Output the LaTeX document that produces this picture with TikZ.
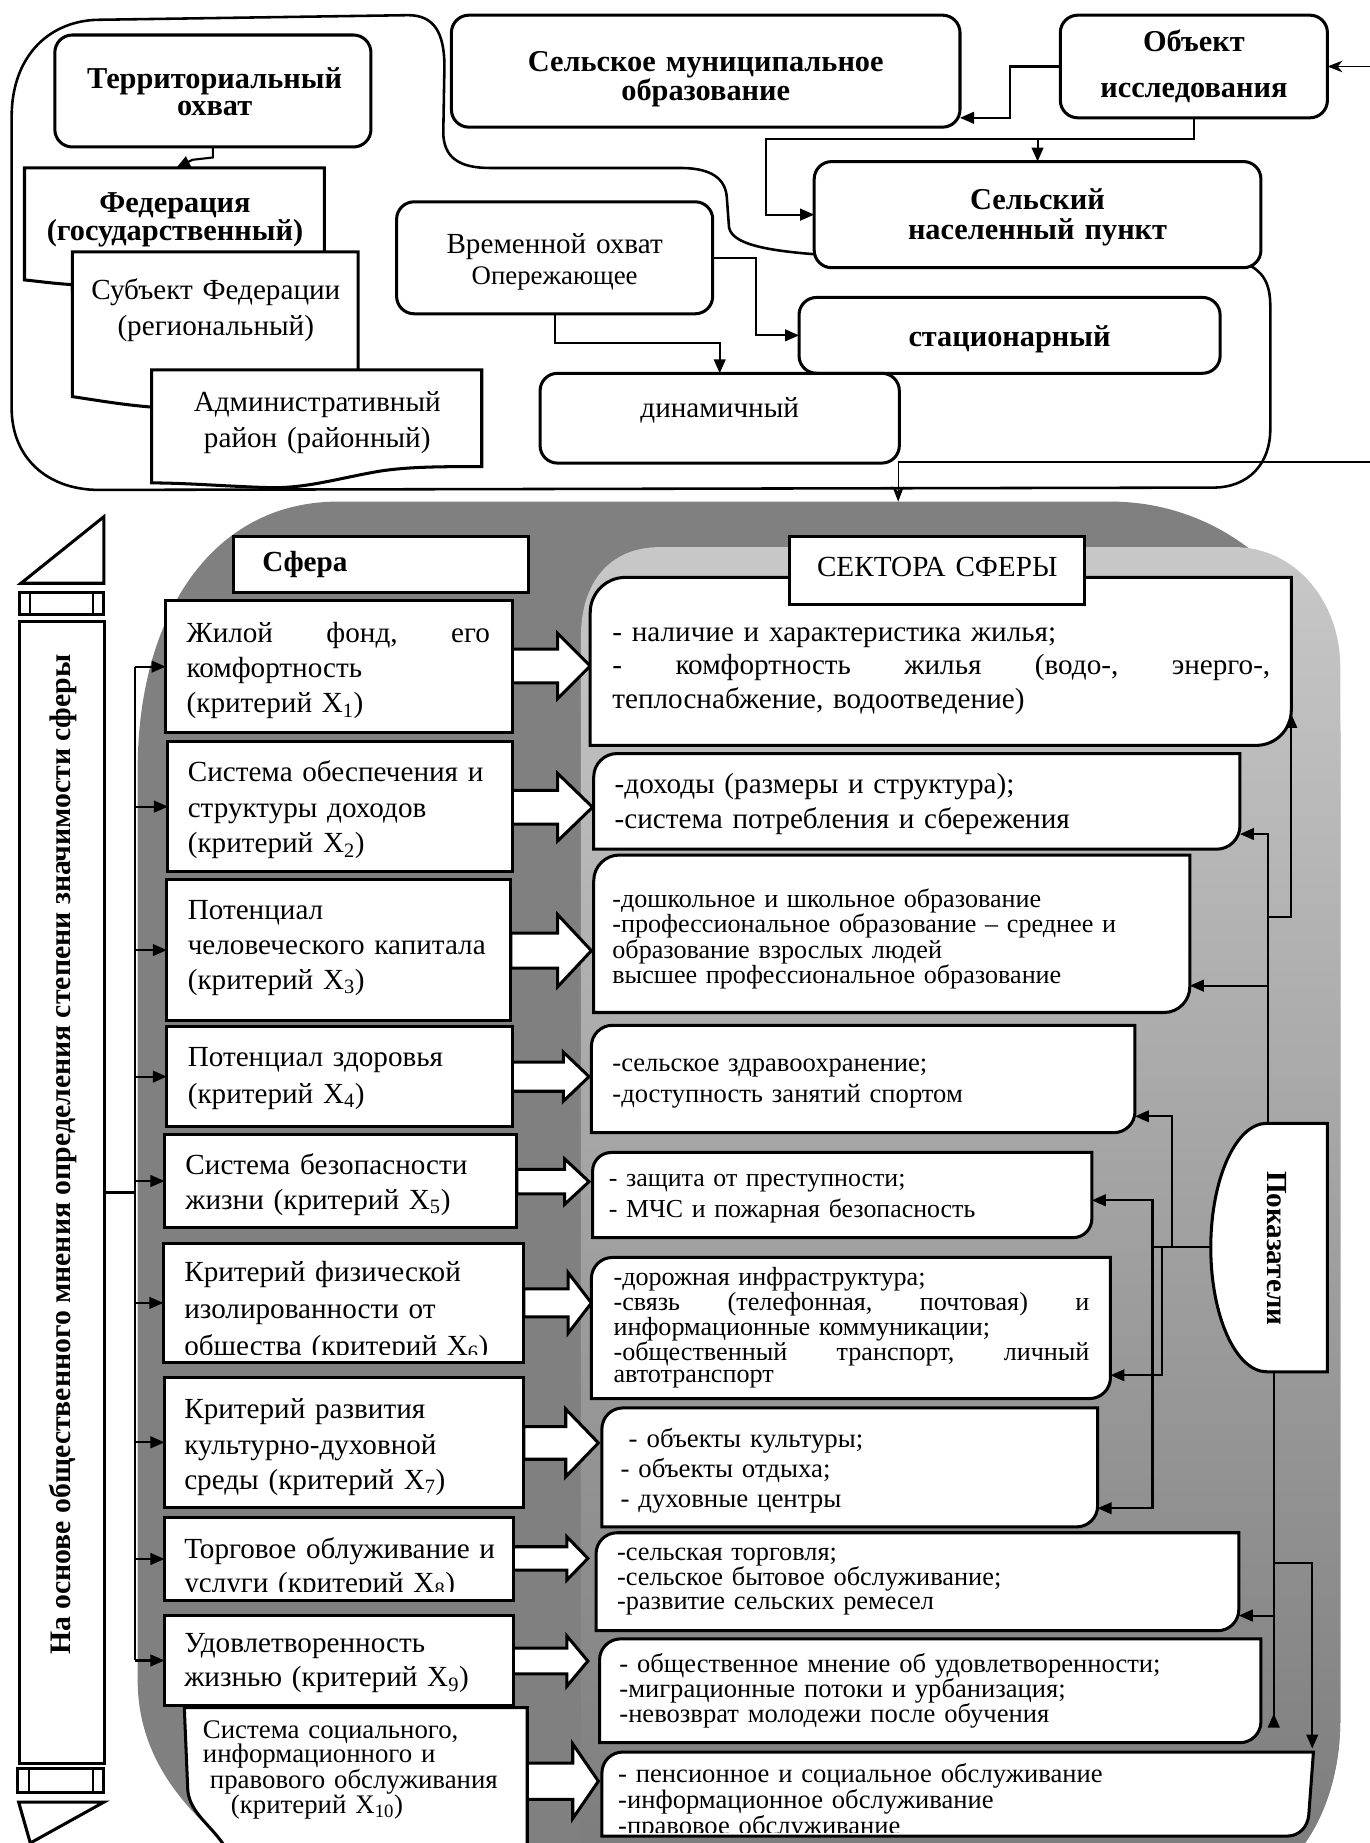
\documentclass[tikz,border=0pt]{standalone}
\usepackage{fontspec}
\setmainfont{Liberation Serif}
\usetikzlibrary{arrows.meta,calc,fit}
\newcommand\fsz[2]{\fontsize{#1}{#2}\selectfont}
\definecolor{darkg}{RGB}{128,128,128}
\definecolor{lgtop}{RGB}{200,200,200}
\definecolor{lgbot}{RGB}{125,125,125}
\tikzset{
  bline/.style={line width=2.6pt, draw=black, fill=white, line join=miter},
  rbox/.style={bline, rounded corners=15pt, inner sep=0pt, outer sep=0pt},
  sqbox/.style={bline, inner sep=0pt, outer sep=0pt},
  outl/.style={line width=2.2pt, draw=black},
  conn/.style={line width=1.8pt, -{Triangle[length=12pt,width=10pt]}},
  connl/.style={line width=1.8pt},
  connrev/.style={line width=1.8pt, {Triangle[reversed,length=12pt,width=10pt]}-},
  thinarr/.style={line width=1pt, -{Stealth[length=13pt,width=10pt]}},
  blk/.style={line width=2.6pt, draw=black, fill=white, line join=miter},
  txt/.style={inner sep=0pt, outer sep=0pt, anchor=base west, align=left, text width=#1},
  ctxt/.style={inner sep=0pt, outer sep=0pt, anchor=base, align=center, text width=#1},
  ghost/.style={inner sep=0pt, outer sep=0pt, draw=none, fill=none},
}
\newcommand\secbox[6]{%
  \draw[bline] (#2,{#3+#6}) .. controls (#2,{#3+0.45*#6}) and ({#2+0.45*#6},#3) .. ({#2+#6},#3) -- (#4,#3) -- (#4,{#5-#6}) .. controls (#4,{#5-0.45*#6}) and ({#4-0.45*#6},#5) .. ({#4-#6},#5) -- (#2,#5) -- cycle;
  \coordinate (#1nw) at (#2,#3); \coordinate (#1se) at (#4,#5);
  \node[ghost, fit=(#1nw)(#1se)] (#1) {};
}
\newcommand\blockarrow[6]{% xb xt yc hs hh L
  \draw[blk] (#1,{#3-#4}) -- ({#2-#6},{#3-#4}) -- ({#2-#6},{#3-#5}) -- (#2,#3) -- ({#2-#6},{#3+#5}) -- ({#2-#6},{#3+#4}) -- (#1,{#3+#4}) -- cycle;}
\begin{document}
\begin{tikzpicture}[x=1pt,y=-1pt]
\useasboundingbox (0,0) rectangle (1174.5,1580);

% ---------- gray regions ----------
\fill[darkg] (118,1440) -- (118,660) .. controls (118,530) and (180,430) .. (290,430) -- (952,430) .. controls (1062,430) and (1149,520) .. (1149,630) -- (1149,1475) .. controls (1149,1520) and (1135,1560) .. (1115,1585) -- (200,1585) .. controls (150,1545) and (118,1500) .. (118,1440) -- cycle;
\shade[top color=lgtop, bottom color=lgbot] (498,1585) -- (498,546) .. controls (498,500) and (522,469) .. (566,469) -- (1058,469) .. controls (1110,469) and (1149,515) .. (1149,572) -- (1149,1475) .. controls (1149,1520) and (1135,1560) .. (1115,1585) -- cycle;

% ---------- top outline ----------
\draw[outl] (712,219) .. controls (670,216) and (628,212) .. (625,195) -- (623,168) .. controls (621,150) and (605,144) .. (583,144) -- (420,144) .. controls (392,144) and (381,134) .. (380,115) -- (381,57) .. controls (381,28) and (372,13) .. (350,13) -- (82,17) .. controls (40,19) and (10,50) .. (10,100) -- (10,350) .. controls (10,392) and (40,420) .. (85,420) -- (1040,418) .. controls (1070,418) and (1089,398) .. (1089,368) -- (1089,262) .. controls (1089,242) and (1082,232) .. (1068,226);

% ---------- top boxes ----------
\node[rbox, minimum width=271pt, minimum height=96pt] (terr) at (182.5,78) {};
\draw[bline] (21,144) -- (278,144) -- (278,250) -- (62,250) -- (62,244) .. controls (45,243) and (32,241) .. (21,240) -- cycle;
\coordinate (fednw) at (21,144); \coordinate (fedse) at (278,240);
\node[ghost, fit=(fednw)(fedse)] (fed) {};
\draw[bline] (62,216) -- (307,216) -- (307,330) -- (130,330) -- (130,349) .. controls (105,347) and (82,343) .. (62,340) -- cycle;
\coordinate (subnw) at (62,216); \coordinate (subse) at (307,340);
\node[ghost, fit=(subnw)(subse)] (sub) {};
\draw[bline] (130,317) -- (413,317) -- (413,400) .. controls (380,400) and (350,400) .. (325,404) .. controls (290,410) and (262,419) .. (230,418) .. controls (195,417) and (160,414) .. (130,414) -- cycle;
\coordinate (admnw) at (130,317); \coordinate (admse) at (413,414);
\node[ghost, fit=(admnw)(admse)] (adm) {};

\node[rbox, minimum width=436pt, minimum height=96pt] (selmo) at (605,61) {};
\node[rbox, minimum width=229pt, minimum height=88pt] (obj) at (1023.5,57) {};
\node[rbox, minimum width=383pt, minimum height=91pt] (sel) at (889.5,184) {};
\node[rbox, minimum width=271pt, minimum height=96pt] (vrem) at (475.5,221) {};
\node[rbox, minimum width=361pt, minimum height=65pt] (stat) at (865.5,287.5) {};
\node[rbox, minimum width=308pt, minimum height=77pt] (dyn) at (617,358.5) {};

% top connectors
\coordinate (fedin) at (151,144);
\draw[conn] (terr.south) -- ++(0,9) -- (165,137) -- (fedin);
\coordinate (rin1) at (1174.5,57);
\draw[thinarr] (rin1) -- (obj.east);
\coordinate (selmoin) at (823,101);
\draw[conn] (obj.west) -| (866,101) -- (selmoin);
\draw[conn] (obj.south) |- (657,119) |- (sel.west);
\draw[conn] (sel.north |- 0,119) -- (sel.north);
\draw[conn] (vrem.east) -- (648,221) |- (stat.west);
\draw[conn] (vrem.south) |- (617,294) -- (dyn.north);
\coordinate (rin2) at (1174.5,396); \coordinate (graytop) at (770,430);
\draw[thinarr] (rin2) -- (770,396) -- (graytop);

% top texts
\node[ctxt=300pt, font=\bfseries\fsz{26}{23}] (terrt) at (184,76) {Территориальный\\охват};
\node[ctxt=300pt, font=\bfseries\fsz{26}{23}] (fedt) at (150,182) {Федерация\\(государственный)};
\node[ctxt=300pt, font=\fsz{25}{31}] (subt) at (185,257) {Субъект Федерации\\(региональный)};
\node[ctxt=300pt, font=\fsz{25}{31}] (admt) at (272,353) {Административный\\район (районный)};
\node[ctxt=420pt, font=\bfseries\fsz{26}{23}] (selmot) at (605,61) {Сельское муниципальное\\образование};
\node[ctxt=220pt, font=\bfseries\fsz{26}{40}] (objt) at (1023.5,44) {Объект\\исследования};
\node[ctxt=370pt, font=\bfseries\fsz{26}{25}] (selt) at (889.5,180) {Сельский\\населенный пункт};
\node[ctxt=260pt, font=\fsz{25}{30}] (vremt) at (475.5,217) {Временной охват};
\node[ctxt=260pt, font=\fsz{23}{28}] (oper) at (475.5,244) {Опережающее};
\node[ctxt=350pt, font=\bfseries\fsz{26}{30}] (statt) at (865.5,297) {стационарный};
\node[ctxt=300pt, font=\fsz{25}{30}] (dynt) at (617,358) {динамичный};

% ---------- banner ----------
\draw[bline] (18,500) -- (89,500) -- (89,443) -- cycle;
\draw[bline] (17,508) rectangle (89,527);
\draw[line width=2pt] (26,508) -- (26,527) (80,508) -- (80,527);
\node[sqbox, minimum width=73pt, minimum height=979pt] (ban) at (53.5,1022.5) {};
\draw[bline] (15,1516) rectangle (89,1537);
\draw[line width=2pt] (25,1516) -- (25,1537) (80,1516) -- (80,1537);
\draw[bline] (16,1545) -- (89,1545) -- (26,1580) -- cycle;
\node[rotate=90, inner sep=0pt, font=\bfseries\fsz{25.5}{30}] (bantxt) at (54,990) {На основе общественного мнения определения степени значимости сферы};

% ---------- block arrows ----------
\blockarrow{439}{506}{571}{14.5}{28}{28}
\blockarrow{439}{508}{692}{14.5}{29}{30}
\blockarrow{438}{507}{815}{15}{31}{29}
\blockarrow{439}{505}{923}{12.5}{21}{22}
\blockarrow{443}{505}{1013}{10.5}{19.5}{21}
\blockarrow{449}{507}{1117}{12}{26}{20}
\blockarrow{449}{513}{1237}{14}{29}{28}
\blockarrow{440}{504}{1336}{10}{18.5}{18}
\blockarrow{440}{504}{1424}{11}{21.5}{18}
\blockarrow{452}{513}{1527}{15.5}{32}{22}

% ---------- criterion boxes ----------
\node[sqbox, minimum width=297pt, minimum height=113pt] (x1) at (290.5,571.5) {};
\node[sqbox, minimum width=295pt, minimum height=111pt] (x2) at (291.5,691.5) {};
\node[sqbox, minimum width=295pt, minimum height=121pt] (x3) at (290.5,814.5) {};
\node[sqbox, minimum width=296pt, minimum height=86pt] (x4) at (291,923) {};
\node[sqbox, minimum width=302pt, minimum height=79pt] (x5) at (292,1012.5) {};
\node[sqbox, minimum width=309pt, minimum height=102pt] (x6) at (294.5,1117) {};
\node[sqbox, minimum width=308pt, minimum height=111pt] (x7) at (295,1236.5) {};
\node[sqbox, minimum width=299pt, minimum height=71pt] (x8) at (290.5,1336.5) {};
\node[sqbox, minimum width=299pt, minimum height=77pt] (x9) at (290.5,1423.5) {};
\draw[bline] (452,1464) -- (158,1464) -- (161,1535) .. controls (163,1555) and (182,1565) .. (194,1585) -- (452,1585) -- cycle;
\coordinate (x10nw) at (158,1464); \coordinate (x10se) at (452,1580);
\node[ghost, fit=(x10nw)(x10se)] (x10) {};

% branch
\coordinate (brx) at (116,1022.5);
\draw[line width=2.6pt] (ban.east) -- (brx);
\draw[connl] (brx |- x1.west) -- (brx |- x9.west);
\foreach \k in {1,...,9} \draw[conn] (brx |- x\k.west) -- (x\k.west);

% ---------- sector boxes ----------
\secbox{s1}{506}{495}{1107}{639}{30}
\secbox{s2}{509}{646}{1063}{728}{20}
\secbox{s3}{509}{733}{1020}{868}{22}
\secbox{s4}{507}{879}{973}{971}{18}
\secbox{s5}{508}{988}{936}{1061}{16}
\secbox{s6}{507}{1078}{952}{1199}{18}
\secbox{s7}{516}{1207}{941}{1309}{18}
\secbox{s8}{511}{1314}{1062}{1398}{18}
\secbox{s9}{514}{1405}{1081}{1494}{18}
\draw[bline] (516,1520) .. controls (516,1510) and (524,1502) .. (534,1502) -- (1126,1502) -- (1122,1556) .. controls (1121,1567) and (1113,1574) .. (1104,1574) -- (516,1574) -- cycle;
\coordinate (s10nw) at (516,1502); \coordinate (s10se) at (1126,1574);
\node[ghost, fit=(s10nw)(s10se)] (s10) {};

% headers
\node[sqbox, minimum width=253pt, minimum height=48pt] (sfera) at (326.5,484) {};
\node[sqbox, minimum width=253pt, minimum height=58pt] (sect) at (803.5,489) {};

% ---------- Pokazateli ----------
\draw[bline] (1086,963) -- (1138,963) -- (1138,1176) -- (1086,1176) .. controls (1059.5,1176) and (1038,1128.3) .. (1038,1069.5) .. controls (1038,1010.7) and (1059.5,963) .. (1086,963) -- cycle;
\coordinate (poknw) at (1038,963); \coordinate (pokse) at (1138,1176);
\node[ghost, fit=(poknw)(pokse)] (pok) {};
\coordinate (pokt) at (1087,963); \coordinate (pokb) at (1092,1176); \coordinate (pokl) at (1038,1069);
\node[rotate=-90, inner sep=0pt, font=\bfseries\fsz{25}{30}] (pokt2) at (1095,1070) {Показатели};

\draw[conn] (pokt) |- (s2.east |- 0,715);
\draw[conn] (pokt |- 0,786) -| (s1.east |- 0,612);
\draw[conn] (pokt |- 0,845) -- (s3.east |- 0,845);
\draw[connl] (pokl) -- (988,1069);
\draw[conn] (1005,1069) |- (s4.east |- 0,957);
\draw[conn] (988,1069) |- (s5.east |- 0,1029);
\draw[conn] (996,1069) |- (s6.east |- 0,1179);
\draw[conn] (988,1069) |- (s7.east |- 0,1293);
\draw[conn] (pokb) |- (s8.east |- 0,1385);
\draw[connrev] (1092,1481) -- (1092,1385);
\draw[conn] (pokb |- 0,1340) -| (1125,1499);

% ---------- texts ----------
\node[txt=200pt, font=\bfseries\fsz{25}{30}] (sferat) at (225,490) {Сфера};
\node[ctxt=250pt, font=\fsz{25}{30}] (sectt) at (803.5,494) {СЕКТОРА СФЕРЫ};

\node[txt=300pt, font=\fsz{25}{30}] (x1t) at (160,551) {\makebox[260pt][l]{Жилой\hfill фонд,\hfill его}\\комфортность\\(критерий X\textsubscript{1})};
\node[txt=300pt, font=\fsz{25}{30.5}] (x2t) at (161,670) {Система обеспечения и\\структуры доходов\\(критерий X\textsubscript{2})};
\node[txt=300pt, font=\fsz{25}{30}] (x3t) at (161,788) {Потенциал\\человеческого капитала\\(критерий X\textsubscript{3})};
\node[txt=300pt, font=\fsz{25}{32}] (x4t) at (161,914) {Потенциал здоровья\\(критерий X\textsubscript{4})};
\node[txt=300pt, font=\fsz{25}{30}] (x5t) at (159,1007) {Система безопасности\\жизни (критерий X\textsubscript{5})};
\begin{scope}
\clip (140,1066) rectangle (449,1161);
\node[txt=300pt, font=\fsz{25}{31.5}] (x6t) at (158,1099) {Критерий физической\\изолированности от\\общества (критерий X\textsubscript{6})};
\end{scope}
\node[txt=300pt, font=\fsz{25}{30.5}] (x7t) at (158,1216) {Критерий развития\\культурно-духовной\\среды (критерий X\textsubscript{7})};
\begin{scope}
\clip (141,1301) rectangle (440,1364);
\node[txt=300pt, font=\fsz{25}{29}] (x8t) at (158,1336) {Торговое облуживание и\\услуги (критерий X\textsubscript{8})};
\end{scope}
\node[txt=300pt, font=\fsz{25}{29}] (x9t) at (158,1417) {Удовлетворенность\\жизнью (критерий X\textsubscript{9})};
\node[txt=300pt, font=\fsz{23}{21}] (x10t) at (174,1490) {Система социального,\\информационного и\\\hspace*{6pt}правового обслуживания\\\hspace*{24pt}(критерий X\textsubscript{10})};

\node[txt=600pt, font=\fsz{25}{28.5}] (s1t) at (525,550) {- наличие и характеристика жилья;\\\makebox[564pt][l]{-\hfill комфортность\hfill жилья\hfill (водо-,\hfill энерго-,}\\теплоснабжение, водоотведение)};
\node[txt=600pt, font=\fsz{25}{30}] (s2t) at (527,680) {-доходы (размеры и структура);\\-система потребления и сбережения};
\node[txt=600pt, font=\fsz{22.4}{20}] (s3t) at (525,778) {-дошкольное и школьное образование\\-профессиональное образование – среднее и\\образование взрослых людей\\высшее профессиональное образование};
\node[txt=600pt, font=\fsz{22.8}{26}] (s4t) at (525,919) {-сельское здравоохранение;\\-доступность занятий спортом};
\node[txt=600pt, font=\fsz{22.2}{27}] (s5t) at (522,1017) {- защита от преступности;\\- МЧС и пожарная безопасность};
\node[txt=600pt, font=\fsz{22.4}{19}] (s6t) at (526,1102) {-дорожная инфраструктура;\\\makebox[408pt][l]{-связь\hfill (телефонная,\hfill почтовая)\hfill и}\\информационные коммуникации;\\\makebox[408pt][l]{-общественный\hfill транспорт,\hfill личный}\\автотранспорт};
\node[txt=600pt, font=\fsz{23}{25.5}] (s7t) at (532,1241) {\hspace*{7pt}- объекты культуры;\\- объекты отдыха;\\- духовные центры};
\node[txt=600pt, font=\fsz{22.6}{21}] (s8t) at (529,1338) {-сельская торговля;\\-сельское бытовое обслуживание;\\-развитие сельских ремесел};
\node[txt=600pt, font=\fsz{22.8}{21.5}] (s9t) at (531,1434) {- общественное мнение об удовлетворенности;\\-миграционные потоки и урбанизация;\\-невозврат молодежи после обучения};
\begin{scope}
\clip (516,1502) rectangle (1126,1571);
\node[txt=600pt, font=\fsz{22.8}{21}] (s10t) at (530,1528) {- пенсионное и социальное обслуживание\\-информационное обслуживание\\-правовое обслуживание};
\end{scope}
\end{tikzpicture}
\end{document}
